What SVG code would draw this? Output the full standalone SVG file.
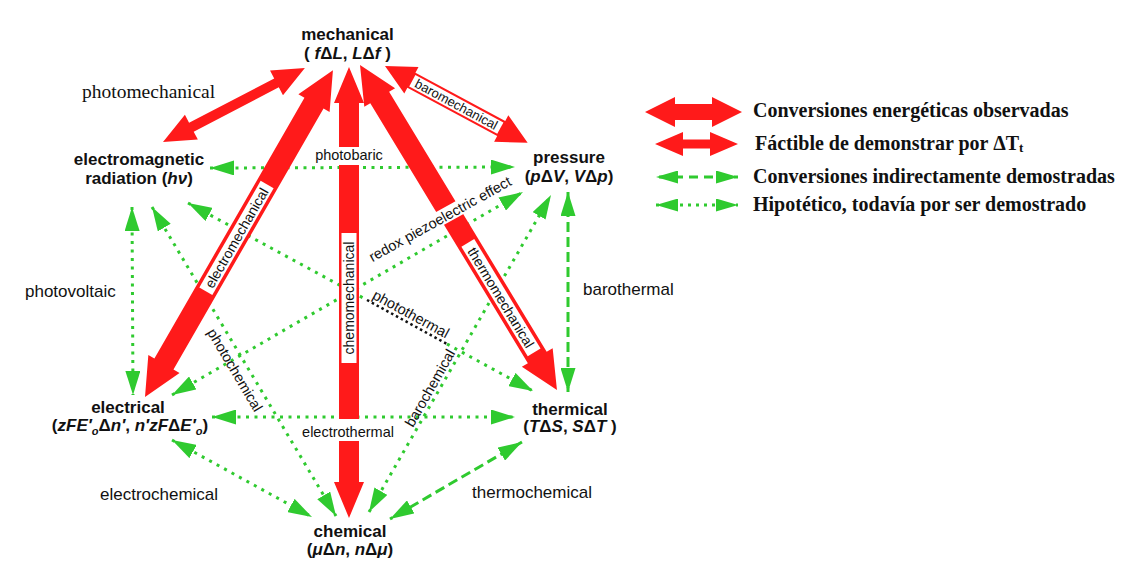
<svg xmlns="http://www.w3.org/2000/svg" width="1131" height="561" viewBox="0 0 1131 561">
<style>
  .nd{font-family:"Liberation Sans",Arial,sans-serif;font-weight:bold;font-size:17px;text-anchor:middle;fill:#111}
  .it{font-style:italic}
  .lb{font-family:"Liberation Sans",Arial,sans-serif;font-size:17px;fill:#111}
  .sm{font-family:"Liberation Sans",Arial,sans-serif;font-size:14.5px;fill:#111;text-anchor:middle}
  .bx{font-family:"Liberation Sans",Arial,sans-serif;font-size:14px;fill:#111;text-anchor:middle}
  .sf{font-family:"Liberation Serif","Times New Roman",serif;font-size:19.5px;fill:#111}
  .lg{font-family:"Liberation Serif","Times New Roman",serif;font-size:20px;font-weight:bold;fill:#111}
  .red{fill:#ff1a1a}
  .wb{fill:#fff}
  .dot{stroke:#2fca2f;stroke-width:3;fill:none;stroke-dasharray:3 5.5;marker-start:url(#gh);marker-end:url(#gh)}
  .dash{stroke:#2fca2f;stroke-width:3;fill:none;stroke-dasharray:10 5;marker-start:url(#gh);marker-end:url(#gh)}
</style>
<defs>
  <marker id="gh" viewBox="0 0 24 15" refX="24" refY="7.5" markerWidth="24" markerHeight="15" markerUnits="userSpaceOnUse" orient="auto-start-reverse">
    <path d="M0,0 L24,7.5 L0,15 Z" fill="#2fca2f"/>
  </marker>
  <marker id="gl" viewBox="0 0 22 13" refX="22" refY="6.5" markerWidth="22" markerHeight="13" markerUnits="userSpaceOnUse" orient="auto-start-reverse">
    <path d="M0,0 L22,6.5 L0,13 Z" fill="#2fca2f"/>
  </marker>
</defs>
<rect width="1131" height="561" fill="#fff"/>

<g id="connectors">
  <!-- green hypothetical / indirect -->
  <line class="dot" x1="210" y1="168" x2="515" y2="167"/>
  <line class="dot" x1="132" y1="207" x2="133" y2="395"/>
  <line class="dot" x1="152" y1="207" x2="336" y2="516"/>
  <path class="dot" d="M188,203 L367,300 M447,344 L533,391"/>
  <line x1="367" y1="300" x2="447" y2="344" stroke="#111" stroke-width="2.5" stroke-dasharray="2.5 3"/>
  <line class="dot" x1="172" y1="395" x2="523" y2="192"/>
  <line class="dot" x1="212" y1="417" x2="515" y2="417"/>
  <line class="dot" x1="172" y1="440" x2="312" y2="517"/>
  <line class="dot" x1="369" y1="512" x2="551" y2="195"/>
  <line class="dash" x1="568" y1="192" x2="568" y2="392"/>
  <line class="dash" x1="522" y1="442" x2="390" y2="519"/>

  <!-- red observed conversions -->
  <g id="photomechanical-arrow" transform="translate(163,142) rotate(-27.53)">
    <polygon class="red" points="0,0 32,-14 32,-5 128,-5 128,-14 160,0 128,14 128,5 32,5 32,14"/>
  </g>
  <g id="electromechanical-arrow" transform="translate(145,397) rotate(-60.1)">
    <polygon class="red" points="0,0 38,-18 38,-11 339,-11 339,-18 377,0 339,18 339,11 38,11 38,18"/>
    <rect class="wb" x="122" y="-7.5" width="123" height="15"/>
    <text class="bx" x="183.5" y="5">electromechanical</text>
  </g>
  <g id="chemomechanical-arrow" transform="translate(349,518) rotate(-90)">
    <polygon class="red" points="0,0 36,-15 36,-10 415,-10 415,-15 451,0 415,15 415,10 36,10 36,15"/>
    <rect class="wb" x="155" y="-7.5" width="130" height="15"/>
    <text class="bx" x="220" y="5">chemomechanical</text>
  </g>
  <g id="thermomechanical-arrow" transform="translate(360,65) rotate(58.78)">
    <polygon class="red" points="0,0 38,-18 38,-11 342,-11 342,-18 380,0 342,18 342,11 38,11 38,18"/>
    <rect class="wb" x="208" y="-7.5" width="128" height="15"/>
    <text class="bx" x="272" y="5">thermomechanical</text>
  </g>
  <g id="baromechanical-arrow" transform="translate(385,66) rotate(28.3)">
    <polygon class="red" points="0,0 30,-15 30,-8.5 132,-8.5 132,-15 162,0 132,15 132,8.5 30,8.5 30,15"/>
    <rect class="wb" x="31" y="-6.5" width="100" height="13"/>
    <text class="bx" x="81" y="4.5" style="font-size:13px">baromechanical</text>
  </g>

  <!-- connector labels -->
  <rect class="wb" x="313" y="147" width="72" height="18"/>
  <text class="sm" x="349" y="160">photobaric</text>
  <rect class="wb" x="300" y="419" width="96" height="22"/>
  <text class="sm" x="348" y="437">electrothermal</text>
  <g transform="translate(440,219) rotate(-29)">
    <rect class="wb" x="-84" y="-8" width="168" height="15"/>
    <text class="sm" x="0" y="5">redox piezoelectric effect</text>
  </g>
  <text class="sm" transform="translate(411,314) rotate(28.6)" x="0" y="5">photothermal</text>
  <text class="sm" transform="translate(235,370) rotate(59.3)" x="0" y="5">photochemical</text>
  <text class="sm" transform="translate(430,388) rotate(-60.4)" x="0" y="5">barochemical</text>
  <text class="sf" x="82" y="98">photomechanical</text>
  <text class="lb" x="25" y="297">photovoltaic</text>
  <text class="lb" x="583" y="295">barothermal</text>
  <text class="lb" x="100" y="500">electrochemical</text>
  <text class="lb" x="472" y="498">thermochemical</text>
</g>

<g id="mechanical">
  <text class="nd" x="347.5" y="40">mechanical</text>
  <text class="nd" x="347.5" y="59">( <tspan class="it">f</tspan>Δ<tspan class="it">L</tspan>, <tspan class="it">L</tspan>Δ<tspan class="it">f</tspan> )</text>
</g>
<g id="electromagnetic-radiation">
  <text class="nd" x="139" y="165">electromagnetic</text>
  <text class="nd" x="139" y="184">radiation (<tspan class="it">hν</tspan>)</text>
</g>
<g id="pressure">
  <text class="nd" x="569" y="163">pressure</text>
  <text class="nd" x="569" y="182">(<tspan class="it">p</tspan>Δ<tspan class="it">V</tspan>, <tspan class="it">V</tspan>Δ<tspan class="it">p</tspan>)</text>
</g>
<g id="electrical">
  <text class="nd" x="128" y="413">electrical</text>
  <text class="nd" x="130" y="431">(<tspan class="it">zFE′</tspan><tspan class="it" font-size="11" dy="4">o</tspan><tspan dy="-4">Δ</tspan><tspan class="it">n′</tspan>, <tspan class="it">n′zF</tspan>Δ<tspan class="it">E′</tspan><tspan class="it" font-size="11" dy="4">o</tspan><tspan dy="-4">)</tspan></text>
</g>
<g id="thermical">
  <text class="nd" x="570" y="415">thermical</text>
  <text class="nd" x="570" y="432">(<tspan class="it">T</tspan>Δ<tspan class="it">S</tspan>, <tspan class="it">S</tspan>Δ<tspan class="it">T</tspan> )</text>
</g>
<g id="chemical">
  <text class="nd" x="350" y="537">chemical</text>
  <text class="nd" x="350" y="555">(<tspan class="it">μ</tspan>Δ<tspan class="it">n</tspan>, <tspan class="it">n</tspan>Δ<tspan class="it">μ</tspan>)</text>
</g>

<g id="legend">
  <g transform="translate(645,112)">
    <polygon class="red" points="0,0 30,-15 30,-8 67,-8 67,-15 97,0 67,15 67,8 30,8 30,15"/>
  </g>
  <g transform="translate(655,144)">
    <polygon class="red" points="0,0 28,-12 28,-4.5 55,-4.5 55,-12 83,0 55,12 55,4.5 28,4.5 28,12"/>
  </g>
  <line x1="656" y1="177" x2="738" y2="177" stroke="#2fca2f" stroke-width="3" stroke-dasharray="9 6" stroke-dashoffset="-3" marker-start="url(#gl)" marker-end="url(#gl)"/>
  <line x1="656" y1="205" x2="738" y2="205" stroke="#2fca2f" stroke-width="3" stroke-dasharray="3 5" marker-start="url(#gl)" marker-end="url(#gl)"/>
  <text class="lg" x="753" y="117">Conversiones energéticas observadas</text>
  <text class="lg" x="755" y="150">Fáctible de demonstrar por ΔT<tspan font-size="13" dy="2">t</tspan></text>
  <text class="lg" x="753" y="183">Conversiones indirectamente demostradas</text>
  <text class="lg" x="753" y="211">Hipotético, todavía por ser demostrado</text>
</g>
</svg>
